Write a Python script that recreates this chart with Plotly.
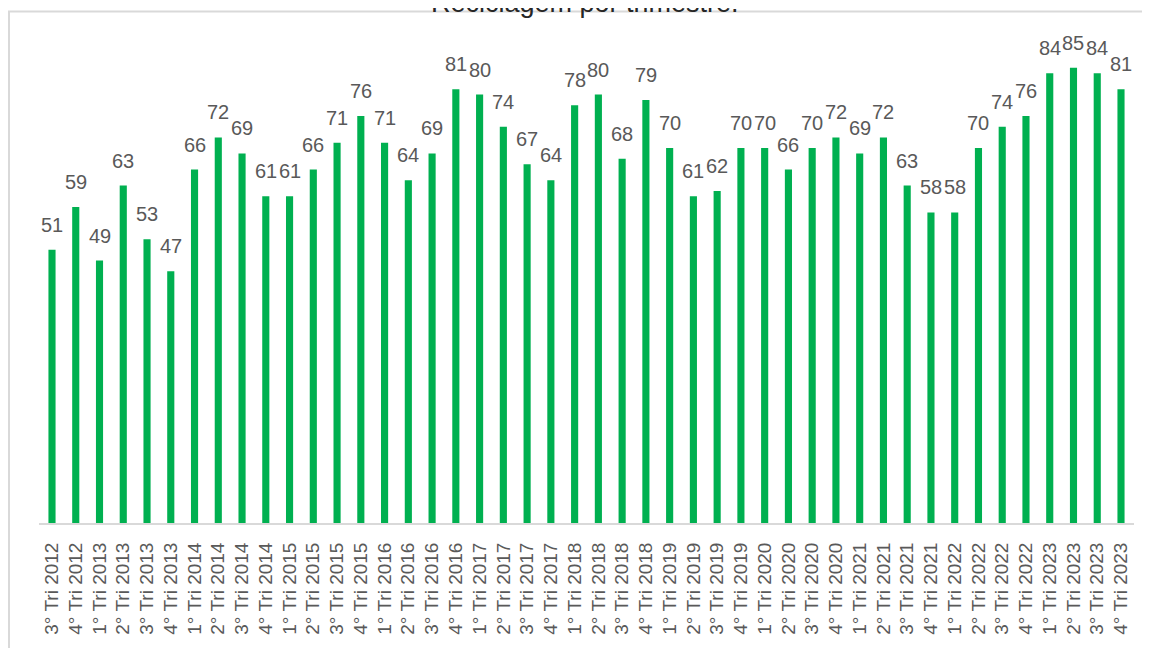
"""Reciclagem por trimestre - bar chart."""

import plotly.graph_objects as go

# ---------------------------------------------------------------------------
# Data
# ---------------------------------------------------------------------------
QUARTERS = [
    "3° Tri 2012", "4° Tri 2012",
    "1° Tri 2013", "2° Tri 2013", "3° Tri 2013", "4° Tri 2013",
    "1° Tri 2014", "2° Tri 2014", "3° Tri 2014", "4° Tri 2014",
    "1° Tri 2015", "2° Tri 2015", "3° Tri 2015", "4° Tri 2015",
    "1° Tri 2016", "2° Tri 2016", "3° Tri 2016", "4° Tri 2016",
    "1° Tri 2017", "2° Tri 2017", "3° Tri 2017", "4° Tri 2017",
    "1° Tri 2018", "2° Tri 2018", "3° Tri 2018", "4° Tri 2018",
    "1° Tri 2019", "2° Tri 2019", "3° Tri 2019", "4° Tri 2019",
    "1° Tri 2020", "2° Tri 2020", "3° Tri 2020", "4° Tri 2020",
    "1° Tri 2021", "2° Tri 2021", "3° Tri 2021", "4° Tri 2021",
    "1° Tri 2022", "2° Tri 2022", "3° Tri 2022", "4° Tri 2022",
    "1° Tri 2023", "2° Tri 2023", "3° Tri 2023", "4° Tri 2023",
]
RECYCLING = [
    51, 59,
    49, 63, 53, 47,
    66, 72, 69, 61,
    61, 66, 71, 76,
    71, 64, 69, 81,
    80, 74, 67, 64,
    78, 80, 68, 79,
    70, 61, 62, 70,
    70, 66, 70, 72,
    69, 72, 63, 58,
    58, 70, 74, 76,
    84, 85, 84, 81,
]
TITLE = "Reciclagem por trimestre."

BAR_COLOR = "#00B050"
TEXT_COLOR = "#595959"
GRID_COLOR = "#D9D9D9"
FONT = "Liberation Sans, Arial, sans-serif"

fig = go.Figure()
fig.add_trace(
    go.Bar(
        x=QUARTERS,
        y=RECYCLING,
        marker=dict(color=BAR_COLOR, line=dict(width=0)),
        showlegend=False,
    )
)

# data labels above each bar
for q, v in zip(QUARTERS, RECYCLING):
    fig.add_annotation(
        x=q, y=v, text=str(v),
        showarrow=False, yanchor="bottom", yshift=12,
        font=dict(family=FONT, size=20, color=TEXT_COLOR),
    )

# title, cropped at the top edge like in the original
fig.add_annotation(
    text=TITLE, xref="paper", yref="paper",
    x=0.4986, y=1.079, xanchor="center", yanchor="middle",
    showarrow=False,
    font=dict(family=FONT, size=27, color="#262626"),
)

# light chart border (partially cropped)
fig.add_shape(
    type="rect", xref="paper", yref="paper",
    x0=-0.0274, x1=1.05, y0=-0.4, y1=1.061,
    line=dict(color=GRID_COLOR, width=2),
    layer="below",
)

# page body adds an 8px offset, so the figure is a bit smaller than the window
fig.update_layout(
    width=1142,
    height=640,
    margin=dict(l=31, r=16, t=33, b=125, autoexpand=False),
    paper_bgcolor="white",
    plot_bgcolor="white",
    bargap=0.7,
    font=dict(family=FONT, size=20, color=TEXT_COLOR),
    xaxis=dict(
        tickmode="array",
        tickvals=QUARTERS,
        ticktext=QUARTERS,
        tickangle=-90,
        automargin=False,
        showgrid=False,
        showline=True,
        linecolor=GRID_COLOR,
        linewidth=2,
        ticks="",
        ticklabelstandoff=10,
        tickfont=dict(family=FONT, size=19, color=TEXT_COLOR),
    ),
    yaxis=dict(
        range=[0, 90],
        visible=False,
        showgrid=False,
        zeroline=False,
    ),
)

fig.write_html("out.html")
